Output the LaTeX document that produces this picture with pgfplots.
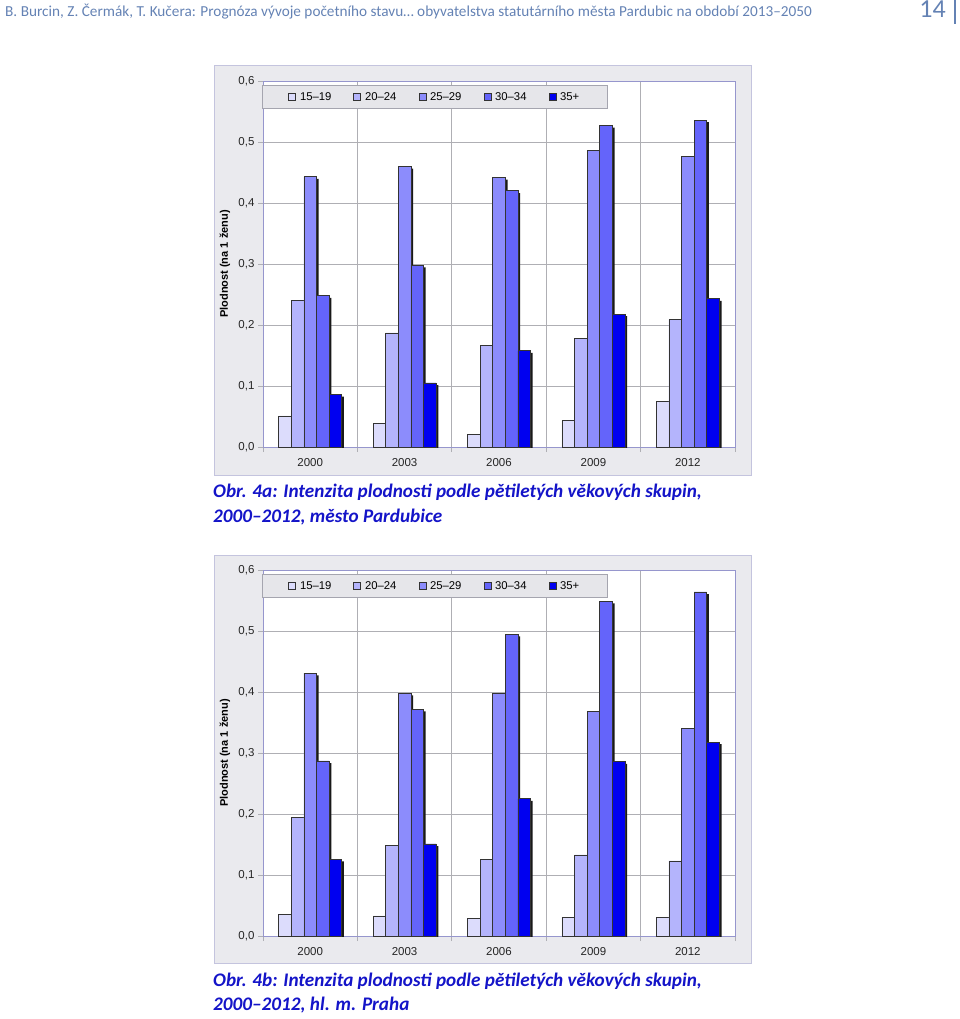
\documentclass[border=0pt]{standalone}
\usepackage{fontspec}
\setmainfont{Liberation Sans}
\newfontfamily\carlito{Carlito}
\usepackage{pgfplots}
\usepackage{pgfplotstable}
\pgfplotsset{compat=1.18}

\definecolor{cA}{RGB}{220,220,252}
\definecolor{cB}{RGB}{180,180,252}
\definecolor{cC}{RGB}{140,140,252}
\definecolor{cD}{RGB}{100,100,250}
\definecolor{cE}{RGB}{0,0,240}
\definecolor{boxfill}{RGB}{234,234,238}
\definecolor{boxdraw}{RGB}{196,196,222}
\definecolor{axisc}{RGB}{150,150,205}
\definecolor{gridc}{RGB}{175,175,180}
\definecolor{legfill}{RGB}{230,230,234}
\definecolor{legdraw}{RGB}{165,165,175}
\definecolor{hdrc}{RGB}{100,130,180}
\definecolor{capc}{RGB}{20,20,200}

% Pardubice
\pgfplotstableread{
x a b c d e
0 0.051 0.240 0.443 0.248 0.086
1 0.038 0.187 0.460 0.298 0.105
2 0.021 0.166 0.442 0.420 0.158
3 0.043 0.178 0.486 0.527 0.218
4 0.075 0.209 0.476 0.536 0.243
}\dataA
% Praha
\pgfplotstableread{
x a b c d e
0 0.036 0.194 0.431 0.287 0.126
1 0.033 0.148 0.398 0.372 0.151
2 0.029 0.126 0.397 0.495 0.225
3 0.031 0.133 0.368 0.549 0.286
4 0.031 0.123 0.340 0.564 0.318
}\dataB

\def\shx{2.2pt}
\tikzset{barshadow/.style={preaction={fill=black!90, draw=none, transform canvas={xshift=\shx, yshift=-\shx}}}}

\pgfplotsset{
  barstyle/.style={draw=black!80, line width=0.7pt, barshadow},
  fertstyle/.style={
    scale only axis, width=472pt, height=366pt,
    axis background/.style={fill=white},
    ymin=0, ymax=0.6, ytick={0,0.1,...,0.6},
    xmin=-0.5, xmax=4.5, xtick={0,...,4},
    xticklabels={2000,2003,2006,2009,2012},
    minor xtick={-0.5,0.5,...,4.5},
    ymajorgrids, xminorgrids,
    major grid style={draw=gridc, line width=0.7pt},
    minor grid style={draw=gridc, line width=0.7pt},
    axis line style={draw=axisc, line width=0.9pt},
    tick align=outside, tick pos=left,
    major tick length=5pt, minor tick length=5pt,
    tick style={draw=gridc, line width=0.7pt},
    major x tick style={draw=none},
    xticklabel style={yshift=-3pt},
    tick label style={font=\fontsize{11.5}{13}\selectfont, text=black!85},
    /pgf/number format/use comma,
    /pgf/number format/fixed,
    /pgf/number format/fixed zerofill,
    /pgf/number format/precision=1,
    /pgf/number format/assume math mode=true,
    ylabel={Plodnost (na 1 ženu)},
    every axis y label/.style={at={(axis description cs:-0.0805,0.5)}, rotate=90, anchor=center, font=\bfseries\fontsize{11}{13}\selectfont},
    ybar=0pt, bar width=12.6pt,
    legend columns=5,
    legend style={at={(axis description cs:-0.002,0.989)}, anchor=north west,
      fill=legfill, draw=legdraw, line width=0.8pt,
      font=\fontsize{11.3}{13}\selectfont,
      inner xsep=26pt, inner ysep=5pt,
      nodes={inner sep=2pt},
      /tikz/every odd column/.append style={column sep=2pt},
      /tikz/every even column/.append style={column sep=20pt}},
    legend image code/.code={\def\shx{0pt}\draw[#1, line width=0.6pt, draw=black!80] (0pt,-3.5pt) rectangle (7pt,3.5pt);},
  }
}

\begin{document}
\begin{tikzpicture}
\path[use as bounding box] (0pt,0pt) rectangle (960pt,-1019pt);

% header
\node[anchor=base west, inner sep=0pt, font=\carlito\fontsize{15.25}{18}\selectfont, text=hdrc] at (5pt,-17pt)
 {B. Burcin, Z. Čermák, T. Kučera: Prognóza vývoje početního stavu… obyvatelstva statutárního města Pardubic na období 2013–2050};
\node[anchor=base east, inner sep=0pt, font=\carlito\fontsize{26}{30}\selectfont, text=hdrc] at (946pt,-18pt) {14};
\draw[hdrc, line width=1.2pt] (955pt,0pt) -- (955pt,-24pt);

% chart A
\draw[fill=boxfill, draw=boxdraw, line width=1pt] (214pt,-66pt) rectangle (751pt,-475pt);
\begin{axis}[fertstyle, at={(263pt,-447pt)}, anchor=south west]
\addplot[fill=cA, barstyle] table[x=x, y=a] {\dataA};
\addplot[fill=cB, barstyle] table[x=x, y=b] {\dataA};
\addplot[fill=cC, barstyle] table[x=x, y=c] {\dataA};
\addplot[fill=cD, barstyle] table[x=x, y=d] {\dataA};
\addplot[fill=cE, barstyle] table[x=x, y=e] {\dataA};
\legend{15–19,20–24,25–29,30–34,35+}
\end{axis}
\node[anchor=base west, inner sep=0pt, font=\carlito\bfseries\itshape\fontsize{19.2}{24}\selectfont, text=capc] at (213pt,-497pt)
 {Obr. 4a: Intenzita plodnosti podle pětiletých věkových skupin,};
\node[anchor=base west, inner sep=0pt, font=\carlito\bfseries\itshape\fontsize{19.2}{24}\selectfont, text=capc] at (213pt,-522pt)
 {2000–2012, město Pardubice};

% chart B
\draw[fill=boxfill, draw=boxdraw, line width=1pt] (214pt,-555pt) rectangle (751pt,-963pt);
\begin{axis}[fertstyle, at={(263pt,-936pt)}, anchor=south west]
\addplot[fill=cA, barstyle] table[x=x, y=a] {\dataB};
\addplot[fill=cB, barstyle] table[x=x, y=b] {\dataB};
\addplot[fill=cC, barstyle] table[x=x, y=c] {\dataB};
\addplot[fill=cD, barstyle] table[x=x, y=d] {\dataB};
\addplot[fill=cE, barstyle] table[x=x, y=e] {\dataB};
\legend{15–19,20–24,25–29,30–34,35+}
\end{axis}
\node[anchor=base west, inner sep=0pt, font=\carlito\bfseries\itshape\fontsize{19.2}{24}\selectfont, text=capc] at (213pt,-986pt)
 {Obr. 4b: Intenzita plodnosti podle pětiletých věkových skupin,};
\node[anchor=base west, inner sep=0pt, font=\carlito\bfseries\itshape\fontsize{19.2}{24}\selectfont, text=capc] at (213pt,-1010pt)
 {2000–2012, hl. m. Praha};
\end{tikzpicture}
\end{document}
